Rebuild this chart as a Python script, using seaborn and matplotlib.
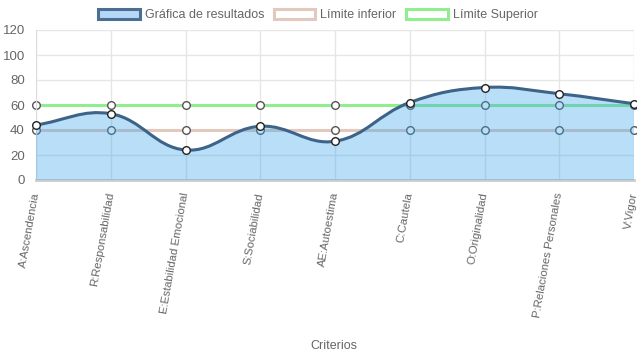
import numpy as np
import pandas as pd
import matplotlib
matplotlib.use("Agg")
import matplotlib.pyplot as plt
import matplotlib.transforms as mtransforms
from matplotlib.path import Path
from matplotlib.patches import PathPatch, Patch
import seaborn as sns

# datos
criterios = ['A:Ascendencia', 'R:Responsabilidad', 'E:Estabilidad Emocional',
             'S:Sociabilidad', 'AE:Autoestima', 'C:Cautela', 'O:Originalidad',
             'P:Relaciones Personales', 'V:Vigor']
resultados = [44, 53, 24, 43, 31, 62, 74, 69, 61]
limite_inferior = [40, 40, 40, 40, 40, 40, 40, 40, 40]
limite_superior = [60, 60, 60, 60, 60, 60, 60, 60, 60]

c_linea = '#3d6388'
c_relleno = (54 / 255, 162 / 255, 235 / 255, 0.35)
c_inf = '#e3c9bd'
c_sup = '#90ee90'
gris = '#666666'

sns.set_style('white')
plt.rcParams['font.family'] = ['Liberation Sans', 'DejaVu Sans']

fig = plt.figure(figsize=(6.37, 3.59), dpi=100)
W, H = 637, 359
x0, x1, y0, y1 = 36, 634, 30, 180
ax = fig.add_axes([x0 / W, 1 - y1 / H, (x1 - x0) / W, (y1 - y0) / H])

n = len(criterios)
df = pd.DataFrame({'idx': range(n), 'res': resultados,
                   'inf': limite_inferior, 'sup': limite_superior})

# líneas de límites (debajo del relleno)
for col, c in [('sup', c_sup), ('inf', c_inf)]:
    sns.lineplot(data=df, x='idx', y=col, color=c, lw=2.2, ax=ax, zorder=2,
                 marker='o', markersize=5.5, markerfacecolor='white',
                 markeredgecolor='#555555', markeredgewidth=1, clip_on=False)

# curva suavizada estilo Chart.js (tension 0.4), en espacio de píxeles
sx = (x1 - x0 - 1) / (n - 1)
sy = (y1 - y0) / 120
px = np.arange(n) * sx
py = np.array(resultados) * sy
t = 0.4
verts = [(px[0], py[0])]
codes = [Path.MOVETO]
cps = []
for i in range(n):
    p = np.array([px[i], py[i]])
    pr = np.array([px[max(i - 1, 0)], py[max(i - 1, 0)]])
    nx = np.array([px[min(i + 1, n - 1)], py[min(i + 1, n - 1)]])
    d01 = np.hypot(*(p - pr))
    d12 = np.hypot(*(nx - p))
    tot = d01 + d12 if d01 + d12 > 0 else 1
    fa, fb = t * d01 / tot, t * d12 / tot
    cps.append((p - fa * (nx - pr), p + fb * (nx - pr)))
for i in range(1, n):
    verts += [tuple(cps[i - 1][1]), tuple(cps[i][0]), (px[i], py[i])]
    codes += [Path.CURVE4] * 3
verts = [(vx / sx, vy / sy) for vx, vy in verts]

curva = Path(verts, codes)
relleno = Path(verts + [(n - 1, 0), (0, 0), verts[0]],
               codes + [Path.LINETO, Path.LINETO, Path.CLOSEPOLY])
ax.add_patch(PathPatch(relleno, facecolor=c_relleno, edgecolor='none', zorder=3))
ax.add_patch(PathPatch(curva, facecolor='none', edgecolor=c_linea, lw=2.2, zorder=4,
                       capstyle='round'))
sns.scatterplot(data=df, x='idx', y='res', s=30, color='white', edgecolor='#222222',
                linewidth=1, zorder=5, ax=ax, clip_on=False)

ax.set_xlim(0, n - 1)
ax.set_ylim(0, 120)
ax.set_yticks(range(0, 121, 20))
ax.set_xticks(range(n))
ax.set_xticklabels(criterios, rotation=80, ha='right', va='center',
                   rotation_mode='anchor', fontsize=8.2, color=gris)
desplaz = mtransforms.ScaledTranslation(-3 / 100, 0, fig.dpi_scale_trans)
for lbl in ax.get_xticklabels():
    lbl.set_transform(lbl.get_transform() + desplaz)
ax.tick_params(axis='y', labelsize=9.5, colors=gris, length=6, color='#dddddd', pad=2)
ax.tick_params(axis='x', length=6, color='#dddddd', pad=3)
ax.grid(True, color='#e6e6e6', lw=1)
ax.set_axisbelow(True)
for s in ['top', 'right']:
    ax.spines[s].set_visible(False)
ax.spines['left'].set_color('#dddddd')
ax.spines['bottom'].set_color('#cccccc')
ax.spines['bottom'].set_linewidth(2)
ax.set_xlabel('')
ax.set_ylabel('')
fig.text(334 / W, 1 - 346 / H, 'Criterios', ha='center', va='center',
         fontsize=9, color=gris)

handles = [Patch(facecolor='#b6d8f6', edgecolor='#4a6f93', lw=2.2),
           Patch(facecolor='white', edgecolor=c_inf, lw=2.2),
           Patch(facecolor='white', edgecolor=c_sup, lw=2.2)]
fig.legend(handles, ['Gráfica de resultados', 'Límite inferior', 'Límite Superior'],
           loc='center', bbox_to_anchor=(318 / W, 1 - 15 / H), ncol=3, frameon=False,
           fontsize=9, labelcolor=gris, handlelength=3.3, handleheight=0.8,
           handletextpad=0.4, columnspacing=0.8)

fig.savefig('out.png', dpi=100)
